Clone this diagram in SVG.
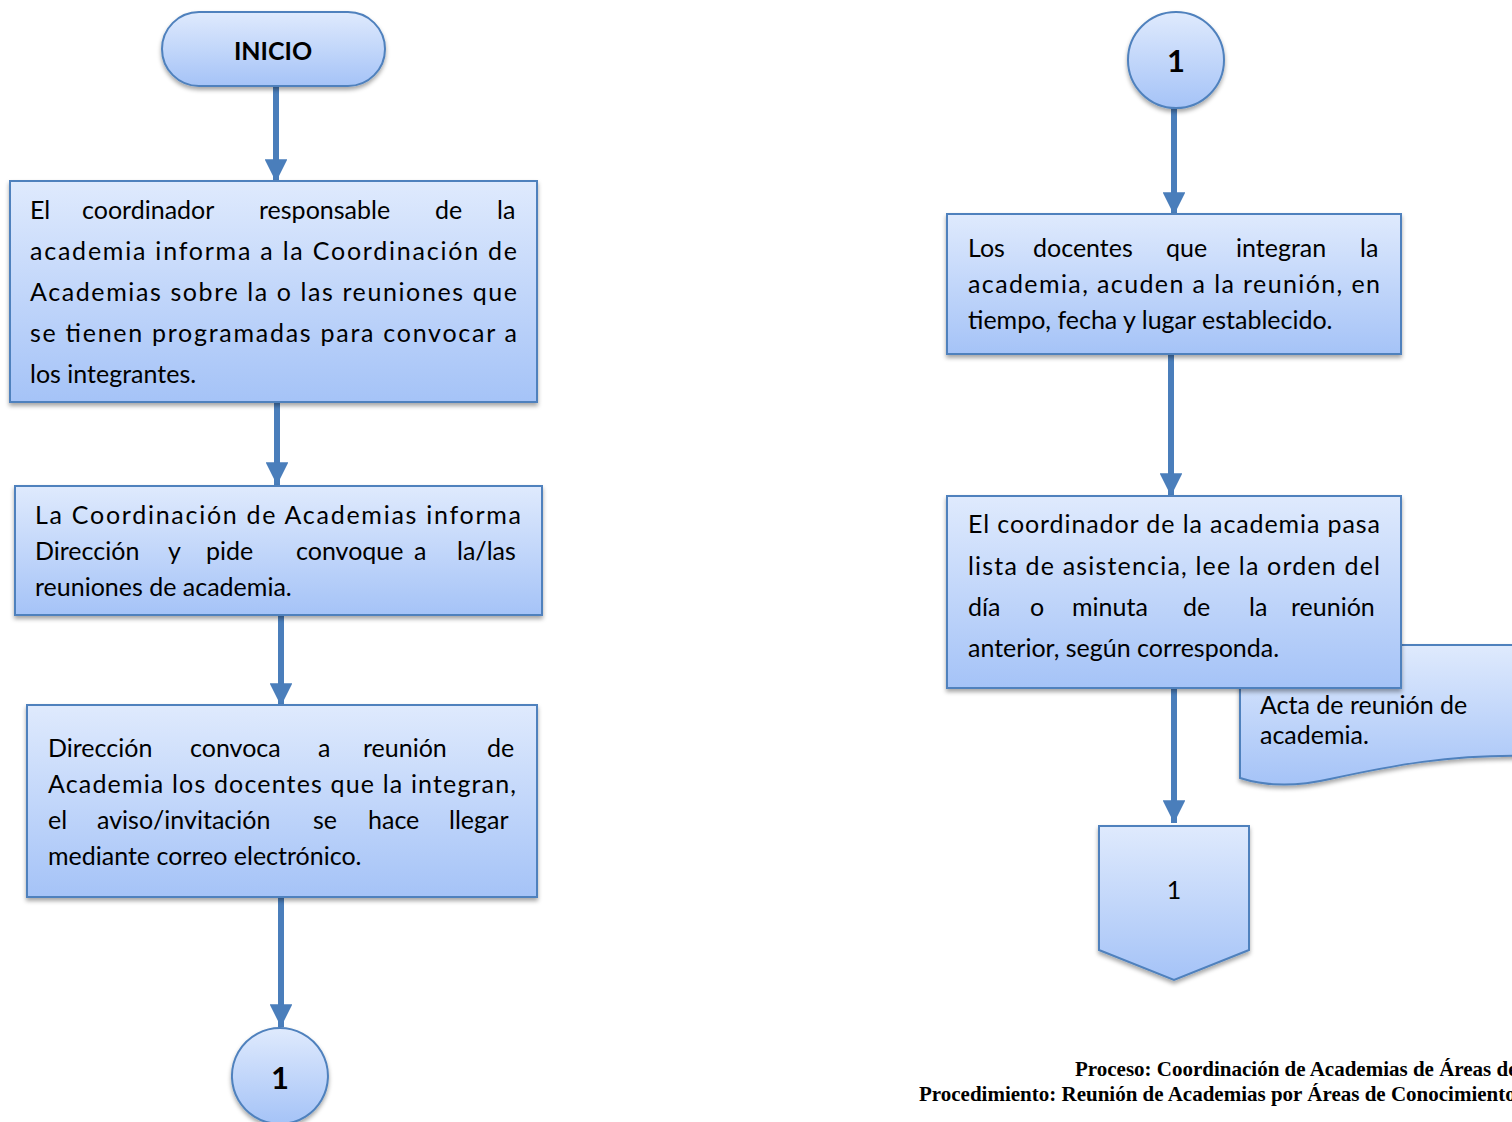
<svg xmlns="http://www.w3.org/2000/svg" width="1512" height="1122" viewBox="0 0 1512 1122">
<defs>
<linearGradient id="g" x1="0" y1="0" x2="0" y2="1">
<stop offset="0" stop-color="#dfeafd"/>
<stop offset="1" stop-color="#a5c3f7"/>
</linearGradient>
<filter id="sh" x="-10%" y="-10%" width="120%" height="130%">
<feDropShadow dx="0" dy="3" stdDeviation="2" flood-color="#000" flood-opacity="0.35"/>
</filter>
<marker id="ah" viewBox="0 0 10 10" refX="10" refY="5" markerWidth="3.8" markerHeight="3.8" markerUnits="strokeWidth" orient="auto">
<path d="M0,0 L10,5 L0,10 Z" fill="#4a7ebb"/>
</marker>
</defs>
<style>
.shape{fill:url(#g);stroke:#4f81bd;stroke-width:2;filter:url(#sh)}
.t{font-family:Lato,"Open Sans",sans-serif;font-size:25px;fill:#000}
.b{font-family:Lato,"Open Sans",sans-serif;font-weight:bold;fill:#000}
.conn{stroke:#4a7ebb;stroke-width:6;fill:none;marker-end:url(#ah)}
.foot{font-family:"Liberation Serif",serif;font-weight:bold;font-size:21px;fill:#000}
</style>
<rect width="1512" height="1122" fill="#fff"/>

<g id="connectors">
<line class="conn" x1="276" y1="86" x2="276" y2="182"/>
<line class="conn" x1="277" y1="402" x2="277" y2="485"/>
<line class="conn" x1="281" y1="615" x2="281" y2="706"/>
<line class="conn" x1="281" y1="897" x2="281" y2="1027"/>
<line class="conn" x1="1174" y1="108" x2="1174" y2="215"/>
<line class="conn" x1="1171" y1="354" x2="1171" y2="496"/>
<line class="conn" x1="1174" y1="688" x2="1174" y2="823"/>
</g>

<g id="inicio">
<rect class="shape" x="162" y="12" width="223" height="74" rx="37"/>
<text class="b" x="273" y="60" font-size="25" text-anchor="middle">INICIO</text>
</g>

<g id="paso1">
<rect class="shape" x="10" y="181" width="527" height="221"/>
<text class="t" y="219"><tspan x="30">El</tspan><tspan x="82">coordinador</tspan><tspan x="259">responsable</tspan><tspan x="435">de</tspan><tspan x="497">la</tspan></text>
<text class="t" x="30" y="260" textLength="487" lengthAdjust="spacing">academia informa a la Coordinación de</text>
<text class="t" x="30" y="301" textLength="487" lengthAdjust="spacing">Academias sobre la o las reuniones que</text>
<text class="t" x="30" y="342" textLength="487" lengthAdjust="spacing">se tienen programadas para convocar a</text>
<text class="t" x="30" y="383">los integrantes.</text>
</g>

<g id="paso2">
<rect class="shape" x="15" y="486" width="527" height="129"/>
<text class="t" x="35" y="524" textLength="486" lengthAdjust="spacing">La Coordinación de Academias informa</text>
<text class="t" y="560"><tspan x="35">Dirección</tspan><tspan x="168">y</tspan><tspan x="206">pide</tspan><tspan x="296">convoque</tspan><tspan x="414">a</tspan><tspan x="457">la/las</tspan></text>
<text class="t" x="35" y="596">reuniones de academia.</text>
</g>

<g id="paso3">
<rect class="shape" x="27" y="705" width="510" height="192"/>
<text class="t" y="757"><tspan x="48">Dirección</tspan><tspan x="190">convoca</tspan><tspan x="318">a</tspan><tspan x="363">reunión</tspan><tspan x="487">de</tspan></text>
<text class="t" x="48" y="793" textLength="468" lengthAdjust="spacing">Academia los docentes que la integran,</text>
<text class="t" y="829"><tspan x="48">el</tspan><tspan x="97">aviso/invitación</tspan><tspan x="313">se</tspan><tspan x="368">hace</tspan><tspan x="449">llegar</tspan></text>
<text class="t" x="48" y="865">mediante correo electrónico.</text>
</g>

<g id="conector1-salida">
<path class="shape" d="M280,1028 A48,48 0 1 1 279.9,1028 Z"/>
<text class="b" x="280" y="1089" font-size="31" text-anchor="middle">1</text>
</g>

<g id="conector1-entrada">
<circle class="shape" cx="1176" cy="60" r="48"/>
<text class="b" x="1176" y="72" font-size="31" text-anchor="middle">1</text>
</g>

<g id="paso4">
<rect class="shape" x="947" y="214" width="454" height="140"/>
<text class="t" y="257"><tspan x="968">Los</tspan><tspan x="1033">docentes</tspan><tspan x="1166">que</tspan><tspan x="1236">integran</tspan><tspan x="1360">la</tspan></text>
<text class="t" x="968" y="293" textLength="412" lengthAdjust="spacing">academia, acuden a la reunión, en</text>
<text class="t" x="968" y="329">tiempo, fecha y lugar establecido.</text>
</g>

<g id="documento">
<path class="shape" d="M1240,645 H1530 V756 C1450,754 1390,766 1330,779 C1295,787 1265,786 1240,778 Z"/>
<text class="t" x="1260" y="714" font-size="21">Acta de reunión de</text>
<text class="t" x="1260" y="744" font-size="21">academia.</text>
</g>

<g id="paso5">
<rect class="shape" x="947" y="496" width="454" height="192"/>
<text class="t" x="968" y="533" textLength="412" lengthAdjust="spacing">El coordinador de la academia pasa</text>
<text class="t" x="968" y="575" textLength="412" lengthAdjust="spacing">lista de asistencia, lee la orden del</text>
<text class="t" y="616"><tspan x="968">día</tspan><tspan x="1030">o</tspan><tspan x="1072">minuta</tspan><tspan x="1183">de</tspan><tspan x="1249">la</tspan><tspan x="1291">reunión</tspan></text>
<text class="t" x="968" y="657">anterior, según corresponda.</text>
</g>

<g id="conector-pagina">
<path class="shape" d="M1099,826 H1249 V950 L1174,980 L1099,950 Z"/>
<text class="t" x="1174" y="899" font-size="23" text-anchor="middle">1</text>
</g>

<g id="pie">
<text class="foot" x="1075" y="1076">Proceso: Coordinación de Academias de Áreas de Conocimiento</text>
<text class="foot" x="919" y="1101">Procedimiento: Reunión de Academias por Áreas de Conocimiento</text>
</g>
</svg>
